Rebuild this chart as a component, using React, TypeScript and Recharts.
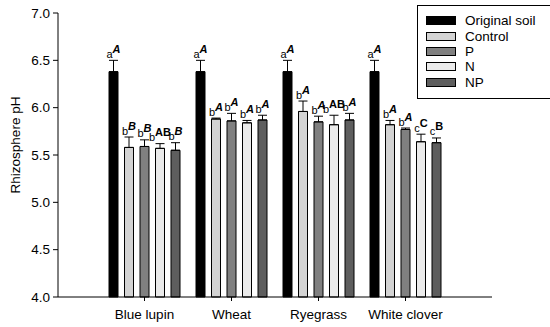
import { BarChart, Bar, XAxis, YAxis, ErrorBar, LabelList, Legend } from 'recharts';

const FONT = '"Liberation Sans", Arial, sans-serif';

const crops = ['Blue lupin', 'Wheat', 'Ryegrass', 'White clover'];
const seriesNames = ['Original soil', 'Control', 'P', 'N', 'NP'];
const seriesKeys = ['orig', 'control', 'p', 'n', 'np'];
const seriesFills = ['#000000', '#d3d3d3', '#808080', '#ebebeb', '#5e5e5e'];

const origSoil = [6.38, 6.38, 6.38, 6.38];
const origSoilErr = [0.12, 0.12, 0.12, 0.12];
const control = [5.58, 5.88, 5.96, 5.82];
const controlErr = [0.11, 0.01, 0.11, 0.045];
const pValues = [5.59, 5.86, 5.85, 5.77];
const pErr = [0.07, 0.08, 0.06, 0.015];
const nValues = [5.57, 5.84, 5.82, 5.64];
const nErr = [0.05, 0.025, 0.1, 0.08];
const npValues = [5.55, 5.87, 5.87, 5.63];
const npErr = [0.08, 0.05, 0.07, 0.05];

// significance letters: lower case (within crop) and upper case (between crops)
const origLower = ['a', 'a', 'a', 'a'];
const origUpper = ['A', 'A', 'A', 'A'];
const controlLower = ['b', 'b', 'b', 'b'];
const controlUpper = ['B', 'A', 'A', 'A'];
const pLower = ['b', 'b', 'b', 'b'];
const pUpper = ['B', 'A', 'A', 'A'];
const nLower = ['b', 'b', 'b', 'c'];
const nUpper = ['AB', 'A', 'AB', 'C'];
const npLower = ['b', 'b', 'b', 'c'];
const npUpper = ['B', 'A', 'A', 'B'];

const yTicks = [4.0, 4.5, 5.0, 5.5, 6.0, 6.5, 7.0];

const values = [origSoil, control, pValues, nValues, npValues];
const errs = [origSoilErr, controlErr, pErr, nErr, npErr];
const lowers = [origLower, controlLower, pLower, nLower, npLower];
const uppers = [origUpper, controlUpper, pUpper, nUpper, npUpper];

const data = crops.map((crop, i) => {
  const row: Record<string, any> = { crop };
  seriesKeys.forEach((k, s) => {
    row[k] = values[s][i];
    row[k + 'Err'] = [0, errs[s][i]];
  });
  return row;
});

const makeLabel = (s: number) => (props: any) => {
  const { x, y, width, height, index } = props;
  const v = values[s][index];
  const pxPerUnit = height / (v - 4);
  const top = y - errs[s][index] * pxPerUnit - 2.5;
  const up = uppers[s][index];
  const italic = up.length === 1 && !(index === 3 && s >= 3);
  return (
    <text x={x + width / 2} y={top} textAnchor="middle" fontSize={11} fontFamily={FONT} fill="#000">
      <tspan fill="#000">{lowers[s][index]}</tspan>
      <tspan dy={-5} fill="#000" fontWeight="bold" fontStyle={italic ? 'italic' : 'normal'}>
        {up}
      </tspan>
    </text>
  );
};

const renderLegend = () => (
  <div
    style={{
      border: '1px solid #000',
      width: 126,
      padding: '7px 0 8px 8px',
      background: '#fff',
      fontFamily: FONT,
      fontSize: 13.5,
      color: '#000',
      boxSizing: 'content-box',
    }}
  >
    {seriesNames.map((n, i) => (
      <div key={n} style={{ display: 'flex', alignItems: 'center', height: 15.4 }}>
        <span
          style={{
            display: 'inline-block',
            width: 28,
            height: 7,
            border: '1px solid #000',
            background: seriesFills[i],
            marginRight: 9,
          }}
        />
        <span>{n}</span>
      </div>
    ))}
  </div>
);

export default function App() {
  return (
    <div style={{ position: 'absolute', left: 0, top: 0, background: '#fff' }}>
      <BarChart
        width={550}
        height={327}
        data={data}
        margin={{ top: 13, right: 58, bottom: 0, left: 0 }}
        barSize={9}
        barGap={6.5}
      >
        <XAxis
          dataKey="crop"
          padding={{ left: 43, right: 43 }}
          height={30}
          stroke="#000"
          tickSize={4}
          tick={{ fontSize: 13.5, fontFamily: FONT, fill: '#000' }}
          tickMargin={8}
        />
        <YAxis
          domain={[4, 7]}
          ticks={yTicks}
          width={58}
          stroke="#000"
          tickSize={5}
          tickMargin={3}
          tickFormatter={(v: number) => v.toFixed(1)}
          tick={{ fontSize: 13.5, fontFamily: FONT, fill: '#000' }}
          label={{
            content: () => (
              <text
                x={20}
                y={145}
                transform="rotate(-90 20 145)"
                textAnchor="middle"
                fontSize={13.5}
                fontFamily={FONT}
                fill="#000"
              >
                Rhizosphere pH
              </text>
            ),
          }}
        />
        <Legend
          layout="horizontal"
          verticalAlign="middle"
          align="center"
          content={renderLegend}
          wrapperStyle={{ top: 5, left: 417, width: 'auto', height: 'auto' }}
        />
        {seriesKeys.map((k, s) => (
          <Bar
            key={k}
            dataKey={k}
            name={seriesNames[s]}
            fill={seriesFills[s]}
            stroke="#000"
            strokeWidth={1}
            isAnimationActive={false}
          >
            <ErrorBar dataKey={k + 'Err'} width={4.5} stroke="#000" strokeWidth={1} direction="y" />
            <LabelList dataKey={k} content={makeLabel(s)} />
          </Bar>
        ))}
      </BarChart>
    </div>
  );
}
